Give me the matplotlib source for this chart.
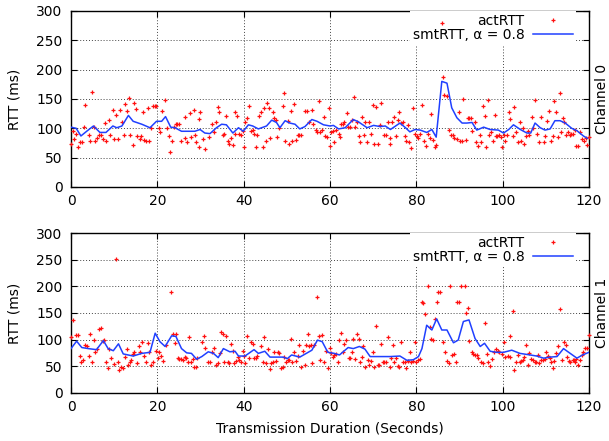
import matplotlib
matplotlib.use('Agg')
import matplotlib.pyplot as plt

plt.rcParams['font.family'] = ['DejaVu Sans']
plt.rcParams['font.size'] = 10

# ---------------- data ----------------
channels = ['Channel 0', 'Channel 1']
x_ticks = [0, 20, 40, 60, 80, 100, 120]
y_ticks = [0, 50, 100, 150, 200, 250, 300]

# Channel 0: actual RTT samples (time s, RTT ms)
act0 = [(0,73),(0.4,96),(0.8,82),(1.2,90),(1.7,68),(2.1,77),(2.5,77),(2.9,103),(3.3,139),(4.1,89),
        (4.4,78),(4.9,162),(5.3,103),(5.6,78),(6.1,83),(6.6,89),(6.9,89),(7.3,81),(7.8,109),(8.1,78),
        (8.9,114),(9.1,89),(9.7,131),(10,82),(10.4,122),(11,81),(11.4,132),(11.8,111),(12.2,89),(12.6,141),
        (12.9,130),(13.5,152),(13.7,89),(14.3,72),(14.7,144),(15.1,133),(15.4,87),(16,82),(16.2,87),(16.6,128),
        (17,80),(17.4,79),(17.8,134),(18.1,79),(18.5,100),(19.1,138),(19.5,138),(19.8,138),(20.3,100),(20.7,94),
        (21.1,130),(21.8,149),(22.2,100),(22.6,87),(23,60),(23.4,78),(23.9,102),(24.3,107),(24.6,107),(25.1,107),
        (25.5,78),(26.3,119),(26.5,84),(26.8,77),(27.6,126),(27.8,85),(28.6,131),(28.7,89),(29,77),(29.6,69),
        (29.7,116),(29.9,127),(30.5,81),(31.1,64),(32,86),(32.7,107),(33.2,94),(33.6,111),(34,136),(34.4,127),
        (35.2,89),(35.5,90),(35.9,121),(36.3,78),(36.7,74),(37.1,83),(37.5,72),(37.9,90),(38.1,127),(38.4,121),
        (39,90),(39.4,89),(39.8,95),(40,68),(40.4,110),(40.8,117),(41.2,138),(41.7,95),(42.1,97),(42.5,90),
        (42.9,68),(43.2,89),(43.6,121),(44,127),(44.4,68),(44.8,134),(45.2,78),(45.5,143),(45.8,135),(46.1,83),
        (46.7,128),(47.1,118),(47.5,115),(47.8,86),(48.2,100),(49,138),(49.4,161),(49.6,78),(50.2,113),(50.6,73),
        (50.9,130),(51.3,78),(51.7,141),(52.1,80),(52.5,89),(52.9,89),(53.3,89),(54.3,130),(54.6,130),(55.2,111),
        (55.8,132),(56.1,107),(56.7,97),(56.9,93),(57.4,147),(57.7,93),(58.1,98),(58.5,120),(58.9,87),(59.2,85),
        (59.7,135),(59.9,70),(60.2,94),(60.6,96),(61,76),(61.4,98),(62,90),(62.3,86),(62.5,107),(63.1,107),
        (63.3,111),(63.9,126),(64.2,103),(64.6,103),(65.1,114),(65.5,154),(65.9,103),(66.2,110),(66.7,87),(67,76),
        (67.4,120),(67.8,88),(68.2,111),(68.6,76),(69,111),(69.5,91),(69.9,139),(70.3,74),(70.7,136),(71.1,74),
        (71.5,106),(71.9,144),(72.4,89),(72.9,89),(73.4,110),(73.8,74),(74,84),(74.4,110),(74.8,119),(75.2,87),
        (75.7,115),(76.1,128),(76.5,109),(76.9,110),(77.3,87),(77.7,79),(78.1,106),(78.4,77),(78.8,66),(79.3,134),
        (79.8,91),(80.1,87),(80.4,83),(80.8,90),(81.4,140),(81.8,78),(82.2,70),(82.8,90),(83.1,83),(83.5,124),
        (83.9,80),(84.3,69),(84.6,72),(85.9,280),(86.1,188),(86.5,157),(87,155),(87.5,97),(88,89),(88.4,89),
        (88.8,84),(89.4,81),(89.8,128),(90.1,79),(90.6,79),(90.9,150),(91.4,80),(91.9,117),(92.3,117),(92.7,117),
        (92.9,96),(93.5,110),(93.9,77),(94.3,70),(94.7,89),(95,77),(95.4,138),(95.8,121),(96.2,68),(96.5,149),
        (96.9,89),(97.3,94),(97.7,79),(98.2,123),(98.5,87),(98.8,87),(99.2,89),(99.6,86),(99.8,69),(100.2,89),
        (100.6,78),(101,89),(101.4,127),(101.8,116),(102.3,87),(102.7,136),(103.1,93),(103.5,77),(103.9,110),(104.3,78),
        (104.7,100),(105,73),(105.4,87),(105.8,95),(106.2,89),(106.8,120),(107.1,100),(107.6,148),(107.9,90),(108.4,77),
        (108.9,120),(109.5,77),(109.9,87),(110.3,113),(110.8,130),(111.2,79),(111.6,87),(112,147),(112.4,128),(112.8,86),
        (113.2,160),(113.6,93),(114,117),(114.3,110),(114.7,89),(115.1,94),(115.5,89),(115.9,90),(116.2,90),(116.7,97),
        (117,70),(117.4,70),(118,93),(118.4,81),(118.8,79),(119.2,83),(119.6,72),(119.9,86)]

# Channel 0: smoothed RTT
smt0_t = [0,1.2,2.3,3.8,5.2,6.7,8.1,9.7,10.6,11.8,
          13.3,14.4,16.4,18.3,19.8,21,21.9,23.1,24.1,25.6,
          27.6,28.7,29.9,31,32.2,33.7,34.9,36,37.5,38.8,
          39.9,41.1,42.1,43.4,45.3,46.5,47.6,48.4,49.6,50.7,
          51.9,53,54.2,55.8,57,58.5,60,60.8,62,63.5,
          65.4,66.6,68.6,70.1,71.6,72.8,74,76.2,77.5,78.5,
          79.7,80.9,82.4,83.6,84.6,85.9,87.1,88.2,89.4,90.6,
          91.7,92.9,94,95.6,97.1,99,100.2,101.4,102.5,104.1,
          105.6,106.5,107.5,108.7,109.8,111,112.1,113.3,114.5,116,
          117.2,118.7,119.6]
smt0_v = [102,100,87,96,104,93,93,104,101,104,
          122,112,107,101,112,112,120,102,101,95,
          95,95,98,92,91,101,107,106,92,101,
          95,106,104,99,104,114,110,101,113,109,
          107,99,103,115,112,106,104,105,99,101,
          115,111,101,105,103,104,98,109,101,94,
          98,97,93,98,85,180,177,135,118,109,
          109,110,97,102,98,97,92,98,106,98,
          92,92,109,101,97,99,113,113,109,100,
          96,87,83]

# Channel 1: actual RTT samples
act1 = [(0,104),(0.5,136),(1.2,109),(1.7,109),(2.1,70),(2.3,58),(2.7,62),(3.3,90),(3.6,88),(4.1,69),
        (4.4,111),(4.9,57),(5.3,99),(5.6,77),(6,82),(6.4,119),(6.9,121),(7.3,98),(7.7,99),(8.1,58),
        (8.5,47),(8.9,82),(9.3,66),(10,54),(10.4,252),(10.8,57),(11.2,43),(11.6,49),(12,46),(12.5,68),
        (12.9,83),(13.3,53),(13.7,58),(13.9,62),(14.3,72),(14.7,77),(15.2,55),(15.7,87),(16,77),(16.5,96),
        (17,70),(17.4,58),(17.8,93),(18.1,77),(18.5,53),(18.9,58),(19.7,78),(20.1,66),(20.5,76),(20.9,70),
        (21.4,60),(21.9,90),(23.2,190),(23.6,110),(24,93),(24.3,110),(24.7,66),(25.1,63),(25.5,63),(25.9,62),
        (26.3,68),(26.6,66),(27,57),(27.4,105),(27.8,57),(28.2,63),(28.6,49),(28.9,48),(29.3,65),(30.4,96),
        (30.7,107),(31.1,85),(31.7,58),(32.2,58),(32.7,77),(33.2,85),(33.6,52),(34,55),(34.5,74),(34.7,114),
        (35.1,110),(35.5,58),(35.9,107),(36.3,58),(36.7,56),(37.1,92),(37.5,78),(37.8,55),(38.2,60),(38.6,67),
        (39,62),(39.4,57),(39.8,78),(40,70),(40.4,55),(40.8,107),(41.2,66),(41.6,96),(42.1,91),(42.5,66),
        (42.9,66),(43.2,69),(44,87),(44.4,57),(44.8,104),(45.2,56),(45.6,82),(46,44),(46.3,55),(46.7,57),
        (47.1,76),(47.5,60),(47.9,77),(48.2,74),(48.6,47),(49,49),(49.4,68),(49.8,57),(50.2,62),(50.6,62),
        (50.9,102),(51.3,57),(51.7,76),(52.1,60),(52.5,69),(52.9,90),(53.3,49),(53.7,78),(54.1,52),(54.4,90),
        (54.8,110),(55.2,87),(55.6,90),(55.9,55),(56.3,90),(56.9,181),(57.4,107),(57.7,62),(58.1,109),(58.7,57),
        (59.1,78),(59.5,47),(59.9,85),(60.2,74),(60.6,68),(61,71),(61.4,72),(61.8,58),(62.2,99),(62.5,112),
        (62.9,76),(63.3,91),(63.7,100),(64.3,65),(64.6,65),(65.1,76),(65.4,102),(65.9,63),(66.2,110),(66.7,101),
        (67,57),(67.4,67),(67.7,87),(68.2,48),(68.7,62),(69.1,53),(69.5,60),(69.9,77),(70.3,48),(70.7,126),
        (71.1,53),(71.3,53),(71.8,92),(72.2,58),(72.6,58),(73,58),(73.4,104),(73.8,48),(74.1,65),(74.7,90),
        (74.9,57),(75.3,65),(75.7,51),(76.1,49),(76.5,95),(76.9,57),(77.3,57),(77.7,47),(78.1,60),(78.5,76),
        (78.8,57),(79.3,60),(79.7,96),(80,57),(80.4,62),(80.8,63),(81.2,170),(81.6,168),(82.1,149),(82.6,200),
        (83.1,123),(83.5,101),(83.8,100),(84.3,139),(84.7,171),(85.1,189),(85.5,189),(86.1,95),(86.7,76),(87.1,60),
        (87.5,55),(87.8,200),(88.3,71),(88.7,72),(89.1,57),(89.4,170),(89.9,170),(90.3,200),(91.3,200),(91.6,150),
        (92,159),(92.2,97),(92.8,77),(93.2,72),(93.6,71),(94,71),(94.4,65),(94.9,58),(95.5,55),(96,131),
        (96.3,72),(96.7,58),(97,51),(97.6,63),(98.1,77),(98.5,83),(98.9,78),(99.2,77),(99.9,72),(100.2,96),
        (100.6,68),(101.2,69),(101.6,68),(101.8,107),(102.3,154),(102.7,43),(103.1,58),(103.5,71),(103.9,58),(104.3,60),
        (104.7,62),(105,68),(105.4,89),(105.8,53),(106.2,74),(106.6,63),(107,62),(107.4,57),(107.7,58),(108.1,71),
        (108.5,55),(108.9,62),(109.3,62),(109.7,63),(110.1,76),(110.5,69),(110.9,65),(111.2,58),(111.6,47),(112,60),
        (112.4,74),(112.8,87),(113.3,158),(113.8,62),(114.1,95),(114.6,90),(114.9,68),(115.4,60),(115.7,57),(116.2,62),
        (116.5,62),(116.7,57),(117.1,63),(117.5,53),(117.9,62),(118.3,71),(118.7,77),(119.1,85),(119.5,85),(120,108)]

# Channel 1: smoothed RTT
smt1_t = [0,1.3,2.5,4,5.9,7.5,8.6,9.8,11,12.1,
          14.4,16.4,18.3,19.5,20.6,21.8,23.3,24.3,25.6,26.8,
          27.9,29.1,30.3,31.8,33,34.1,35.3,36.8,38,38.8,
          40.3,42.4,43.4,44.9,46.1,48,49.2,50.1,51.1,53,
          55.8,57.1,58.2,59.5,61,62.2,64.2,65.4,66.8,68.1,
          69.3,71.6,73.9,76.2,77.8,79.3,80.5,81.3,82.4,83.6,
          84.7,85.9,87.1,88.6,89.7,90.9,92.2,93.6,94.8,95.8,
          97.1,98.6,100.2,102.1,104,106.4,107.9,109.5,111,112.6,
          114.1,115.3,117.2,118.5,120]
smt1_v = [83,97,85,83,81,98,83,79,92,73,
          69,74,76,112,96,87,107,106,83,75,
          74,63,68,77,74,66,83,77,78,69,
          69,81,74,78,67,67,67,64,71,67,
          80,99,96,76,74,71,85,83,87,82,
          68,68,68,69,61,62,68,83,127,118,
          139,118,118,94,99,134,137,102,87,93,
          78,76,76,80,74,71,69,65,67,68,
          83,76,65,71,76]

# ---------------- figure ----------------
W, H = 609, 441
fig = plt.figure(figsize=(W / 100, H / 100), dpi=100)
ax0 = fig.add_axes([71 / W, (H - 187) / H, 518 / W, 176 / H])
ax1 = fig.add_axes([71 / W, (H - 392.7) / H, 518 / W, 159.4 / H])

panels = [(ax0, act0, smt0_t, smt0_v, channels[0], (11 + 187) / 2),
          (ax1, act1, smt1_t, smt1_v, channels[1], (233.3 + 392.7) / 2)]

for ax, act, st, sv, ch, yc in panels:
    at = [p[0] for p in act]
    av = [p[1] for p in act]
    ax.plot(at, av, ls='none', marker='+', ms=3.2, mew=0.9, color='#ff1010',
            label='actRTT', clip_on=False, zorder=3)
    ax.plot(st, sv, color='#2040ff', lw=1.1, label='smtRTT, α = 0.8', zorder=4)
    ax.set_xlim(0, 120)
    ax.set_ylim(0, 300)
    ax.set_xticks(x_ticks)
    ax.set_yticks(y_ticks)
    ax.grid(True, color='#444444', ls=(0, (1, 2)), lw=0.7)
    ax.tick_params(direction='in', top=True, right=True, length=4, width=0.8,
                   labelsize=10, colors='black')
    ax.tick_params(axis='y', pad=6)
    ax.tick_params(axis='x', pad=5)
    for s in ax.spines.values():
        s.set_linewidth(1.0)
        s.set_color('black')
    leg = ax.legend(loc='upper right', bbox_to_anchor=(0.975, 1.0), borderaxespad=0,
                    frameon=True, fancybox=False, framealpha=1, facecolor='white',
                    edgecolor='none', markerfirst=False, labelspacing=0.0,
                    handlelength=2.9, handletextpad=0.6, borderpad=0.2, fontsize=10)
    leg.set_zorder(2.5)
    fig.text(15 / W, 1 - yc / H, 'RTT (ms)', rotation=90, ha='center', va='center', fontsize=10)
    fig.text(602 / W, 1 - yc / H, ch, rotation=90, ha='center', va='center', fontsize=10)

fig.text(330 / W, 1 - 428 / H, 'Transmission Duration (Seconds)', ha='center', va='center', fontsize=10)

fig.savefig('out.png', dpi=100)
